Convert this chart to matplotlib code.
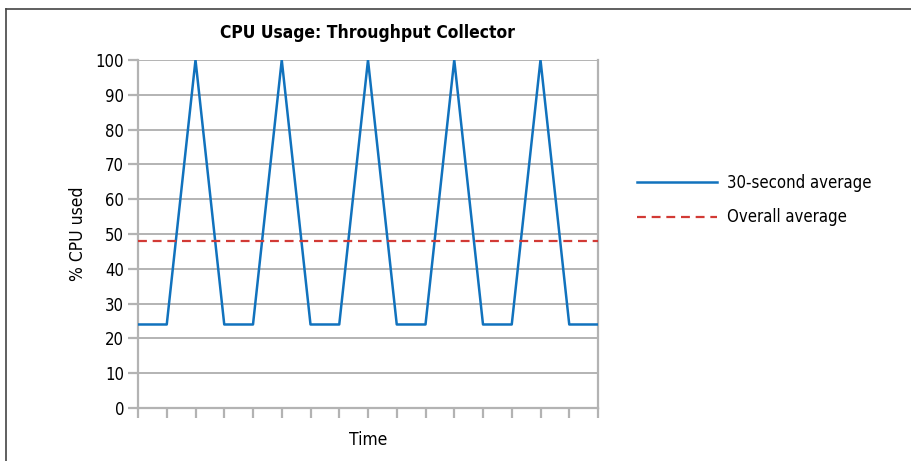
import matplotlib
matplotlib.use("Agg")
import matplotlib.pyplot as plt
from matplotlib.lines import Line2D

plt.rcParams['font.family'] = ['DejaVu Sans']
plt.rcParams['font.stretch'] = 'condensed'

# data
time_ticks = list(range(17))
cpu_30s = [24, 24, 100, 24, 24, 100, 24, 24, 100, 24, 24, 100, 24, 24, 100, 24, 24]
overall_avg = 48
y_ticks = [0, 10, 20, 30, 40, 50, 60, 70, 80, 90, 100]

grey = '#b3b3b3'

fig = plt.figure(figsize=(9.11, 4.61), dpi=100)
ax = fig.add_axes([138/911, 53/461, 460/911, 348/461])

ax.plot(time_ticks, cpu_30s, color='#1172bd', lw=1.8, label='30-second average', zorder=3)
ax.axhline(overall_avg, color='#d23a35', lw=1.6, ls=(0, (4, 2.6)), label='Overall average', zorder=3)

ax.set_xlim(0, 16)
ax.set_ylim(0, 100)
ax.set_xticks(time_ticks)
ax.set_xticklabels([])
ax.set_yticks(y_ticks)
ax.yaxis.grid(True, color=grey, lw=1.4)
ax.set_axisbelow(True)
for s in ['left', 'right', 'bottom']:
    ax.spines[s].set_color(grey)
    ax.spines[s].set_linewidth(1.6)
ax.spines['top'].set_visible(False)
ax.tick_params(axis='both', color=grey, width=1.6, length=7, labelsize=12)
ax.tick_params(axis='y', pad=3)

ax.set_title('CPU Usage: Throughput Collector', fontsize=12.5, fontweight='bold', pad=16)
ax.set_xlabel('Time', fontsize=12.5, labelpad=6)
ax.set_ylabel('% CPU used', fontsize=12.5, labelpad=6)

fig.legend(loc='center left', bbox_to_anchor=(622/911, 1 - 200/461), frameon=False,
           fontsize=12, handlelength=4.8, handletextpad=0.6, labelspacing=1.0)

# page frame
fig.add_artist(Line2D([6/911, 1], [1 - 9/461, 1 - 9/461], color='#444444', lw=1.2))
fig.add_artist(Line2D([6/911, 6/911], [0, 1 - 9/461], color='#444444', lw=1.2))

fig.savefig('out.png', dpi=100)
